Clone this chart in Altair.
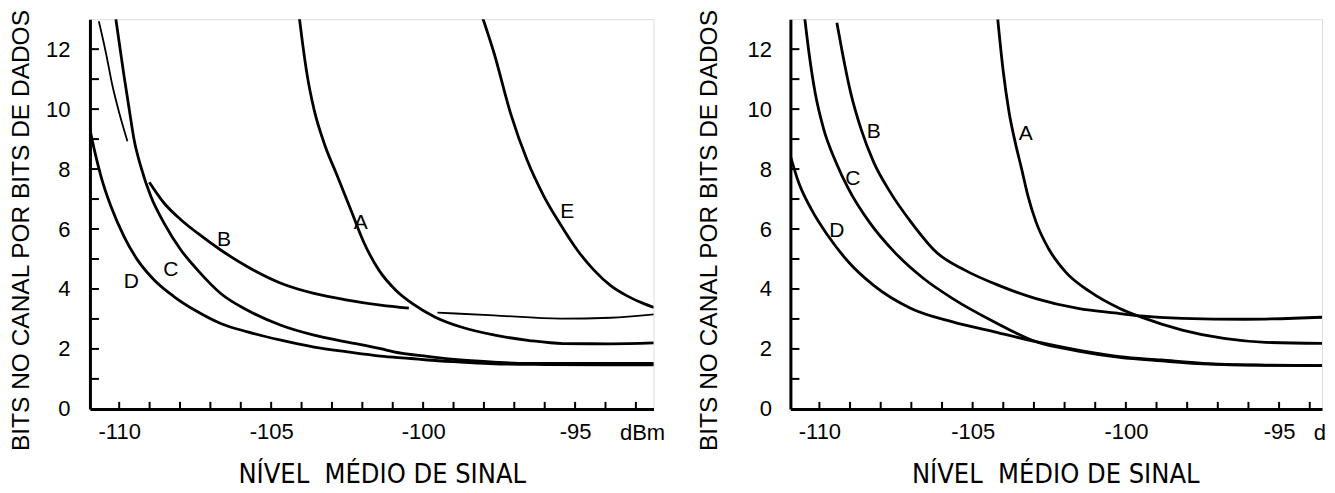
import altair as alt
import pandas as pd

# ---------------- Left panel curves ----------------
LA_x = [-104.08, -103.97, -103.81, -103.59, -103.26, -102.82, -102.38, -101.95, -101.45, -100.9, -100.35, -99.6, -98.75, -97.6, -96.5, -95.4, -93.84, -92.4]
LA_y = [13.1, 12.22, 11.1, 9.99, 8.87, 7.76, 6.64, 5.55, 4.62, 3.96, 3.51, 3.06, 2.73, 2.45, 2.28, 2.18, 2.17, 2.2]

LE_x = [-98.06, -97.67, -97.12, -96.58, -96.03, -95.48, -94.93, -94.38, -93.84, -93.29, -92.74, -92.4]
LE_y = [13.1, 11.88, 9.85, 8.3, 7.1, 6.15, 5.3, 4.63, 4.12, 3.77, 3.51, 3.38]

LB1_x = [-110.67, -110.44, -110.22, -110.0, -109.73]
LB1_y = [12.93, 11.89, 10.77, 9.88, 8.93]

LB2_x = [-109.01, -108.52, -107.97, -107.42, -106.66, -105.78, -104.68, -103.59, -102.49, -101.4, -100.47]
LB2_y = [7.56, 6.86, 6.31, 5.86, 5.30, 4.74, 4.19, 3.85, 3.63, 3.46, 3.36]

LB3_x = [-99.53, -97.67, -95.48, -93.84, -92.4]
LB3_y = [3.21, 3.12, 3.01, 3.04, 3.15]

LC_x = [-110.11, -110.0, -109.84, -109.67, -109.51, -109.29, -108.96, -108.52, -107.97, -107.42, -106.66, -105.78, -104.68, -103.59, -102.49, -101.4, -100.96, -99.86, -98.77, -97.67, -96.58, -95.48, -93.84, -92.4]
LC_y = [13.0, 12.22, 11.1, 9.99, 8.98, 8.09, 7.09, 6.19, 5.30, 4.63, 3.85, 3.29, 2.79, 2.46, 2.23, 2.01, 1.9, 1.75, 1.63, 1.56, 1.52, 1.52, 1.52, 1.52]

LD_x = [-111.02, -110.82, -110.6, -110.27, -109.84, -109.4, -108.85, -108.19, -107.42, -106.66, -105.78, -104.68, -103.59, -102.49, -101.4, -100.4, -99.86, -98.77, -97.67, -96.0, -94.0, -92.4]
LD_y = [9.6, 8.65, 7.76, 6.75, 5.75, 4.97, 4.30, 3.74, 3.24, 2.85, 2.57, 2.29, 2.06, 1.90, 1.76, 1.68, 1.63, 1.56, 1.50, 1.48, 1.47, 1.47]

L_lab_t = ["A", "B", "C", "D", "E"]
L_lab_x = [-102.05, -106.55, -108.3, -109.6, -95.26]
L_lab_y = [6.19, 5.64, 4.63, 4.24, 6.58]

# ---------------- Right panel curves ----------------
RA_x = [-104.18, -104.01, -103.81, -103.61, -103.4, -103.2, -102.93, -102.52, -101.97, -101.16, -100.2, -99.52, -98.16, -96.8, -95.44, -93.27]
RA_y = [12.99, 11.33, 9.89, 8.89, 8.0, 7.12, 6.23, 5.34, 4.57, 3.9, 3.35, 3.07, 2.63, 2.35, 2.22, 2.18]

RB_x = [-109.43, -109.25, -108.98, -108.64, -108.23, -107.69, -107.01, -106.19, -105.24, -104.15, -102.93, -101.56, -100.2, -99.52, -98.16, -96.12, -93.27]
RB_y = [12.88, 11.88, 10.55, 9.33, 8.23, 7.23, 6.23, 5.23, 4.62, 4.12, 3.68, 3.35, 3.18, 3.1, 3.02, 2.99, 3.07]

RC_x = [-110.48, -110.34, -110.14, -109.86, -109.46, -109.05, -108.37, -107.55, -106.6, -105.65, -104.29, -102.93, -101.56, -100.2, -98.84, -97.48, -95.44, -93.27]
RC_y = [13.05, 11.88, 10.55, 9.33, 8.23, 7.34, 6.23, 5.23, 4.35, 3.68, 2.9, 2.24, 1.93, 1.72, 1.6, 1.5, 1.45, 1.44]

RD_x = [-110.98, -110.68, -110.27, -109.73, -109.05, -108.23, -107.01, -105.65, -104.29, -102.93, -101.56, -100.2, -98.84, -97.48, -95.44, -93.27]
RD_y = [8.56, 7.56, 6.67, 5.79, 4.9, 4.12, 3.35, 2.9, 2.57, 2.24, 1.96, 1.74, 1.63, 1.52, 1.46, 1.44]

R_lab_t = ["A", "B", "C", "D"]
R_lab_x = [-103.27, -108.23, -108.91, -109.43]
R_lab_y = [9.17, 9.22, 7.67, 5.95]

# axis values
Y_LABELS = [0, 2, 4, 6, 8, 10, 12]
Y_TICKS = list(range(1, 13))
X_LABELS = [-110, -105, -100, -95]
L_X_TICKS = list(range(-110, -92))
R_X_TICKS = list(range(-110, -93))
Y_TITLE = "BITS NO CANAL POR BITS DE DADOS"
X_TITLE = "NÍVEL\u00a0 MÉDIO DE SINAL"
UNIT = "dBm"

FONT = "Liberation Sans"
NARROW = "Liberation Sans Narrow, DejaVu Sans Condensed, Liberation Sans"


def curves(pairs):
    frames = []
    for name, xs, ys in pairs:
        frames.append(pd.DataFrame({"seg": name, "x": xs, "y": ys, "o": range(len(xs))}))
    return pd.concat(frames, ignore_index=True)


def panel(thick, thin, lab_t, lab_x, lab_y, xdom, width, xticks, title_pad, label_pad, title_x, unit_text, unit_x):
    H = 390
    xs = alt.Scale(domain=xdom, nice=False, zero=False)
    ys = alt.Scale(domain=[0, 13], nice=False, zero=False)
    xaxis = alt.Axis(values=X_LABELS, labelExpr="'-' + (-datum.value)", ticks=False, tickSize=0,
                     labelPadding=13, labelFontSize=22, labelFont=FONT, labelColor="black",
                     labelFlush=False, domainColor="black", domainWidth=3, grid=False,
                     title=X_TITLE, titleFont=NARROW, titleFontSize=27, titleFontWeight="normal",
                     titleColor="black", titleX=title_x, titleY=53, titleBaseline="top", titleAlign="center")
    yaxis = alt.Axis(values=Y_LABELS, ticks=False, tickSize=0, labelPadding=label_pad, labelFontSize=22,
                     labelFont=FONT, labelColor="black", domainColor="black", domainWidth=3, grid=False,
                     title=Y_TITLE, titleFont=FONT, titleFontSize=24.5, titleFontWeight="normal",
                     titleColor="black", titlePadding=title_pad, titleY=211)

    def X(f):
        return alt.X(f, scale=xs, axis=xaxis)

    def Y(f):
        return alt.Y(f, scale=ys, axis=yaxis)

    thick_l = alt.Chart(curves(thick)).mark_line(color="black", strokeWidth=2.8, clip=True, interpolate="monotone").encode(
        x=X("x:Q"), y=Y("y:Q"), detail="seg:N", order="o:Q")
    layers = [thick_l]
    if thin:
        thin_l = alt.Chart(curves(thin)).mark_line(color="black", strokeWidth=1.8, clip=True, interpolate="monotone").encode(
            x=X("x:Q"), y=Y("y:Q"), detail="seg:N", order="o:Q")
        layers.append(thin_l)
    xt = alt.Chart(pd.DataFrame({"v": xticks})).mark_rule(color="black", strokeWidth=2).encode(
        x=X("v:Q"), y=alt.value(H), y2=alt.value(H - 7))
    yt = alt.Chart(pd.DataFrame({"v": Y_TICKS})).mark_rule(color="black", strokeWidth=2).encode(
        y=Y("v:Q"), x=alt.value(0), x2=alt.value(9))
    labs = alt.Chart(pd.DataFrame({"t": lab_t, "x": lab_x, "y": lab_y})).mark_text(
        fontSize=21, font=FONT, color="black").encode(
        x=X("x:Q"), y=Y("y:Q"), text="t:N")
    unit = alt.Chart(pd.DataFrame({"t": [unit_text], "x": [unit_x], "y": [-0.79]})).mark_text(
        fontSize=22, font=FONT, color="black").encode(
        x=X("x:Q"), y=Y("y:Q"), text="t:N")
    layers += [xt, yt, labs, unit]
    return alt.layer(*layers).properties(width=width, height=H)


left = panel(
    thick=[("C", LC_x, LC_y), ("D", LD_x, LD_y), ("B2", LB2_x, LB2_y), ("A", LA_x, LA_y), ("E", LE_x, LE_y)],
    thin=[("B1", LB1_x, LB1_y), ("B3", LB3_x, LB3_y)],
    lab_t=L_lab_t, lab_x=L_lab_x, lab_y=L_lab_y,
    xdom=[-110.963, -92.42], width=564, xticks=L_X_TICKS, title_pad=12, label_pad=20,
    title_x=292, unit_text=UNIT, unit_x=-92.78)

right = panel(
    thick=[("A", RA_x, RA_y), ("B", RB_x, RB_y), ("C", RC_x, RC_y), ("D", RD_x, RD_y)],
    thin=[],
    lab_t=R_lab_t, lab_x=R_lab_x, lab_y=R_lab_y,
    xdom=[-110.946, -93.60], width=532, xticks=R_X_TICKS, title_pad=25, label_pad=19,
    title_x=265, unit_text="d", unit_x=-93.67)

chart = alt.hconcat(left, right, spacing=30).properties(
    padding={"left": 0, "top": 0, "right": 0, "bottom": 0}
).configure_view(strokeOpacity=0, strokeWidth=0).configure(background="white")

chart.save("out.html", embed_options={"renderer": "svg", "actions": False})
